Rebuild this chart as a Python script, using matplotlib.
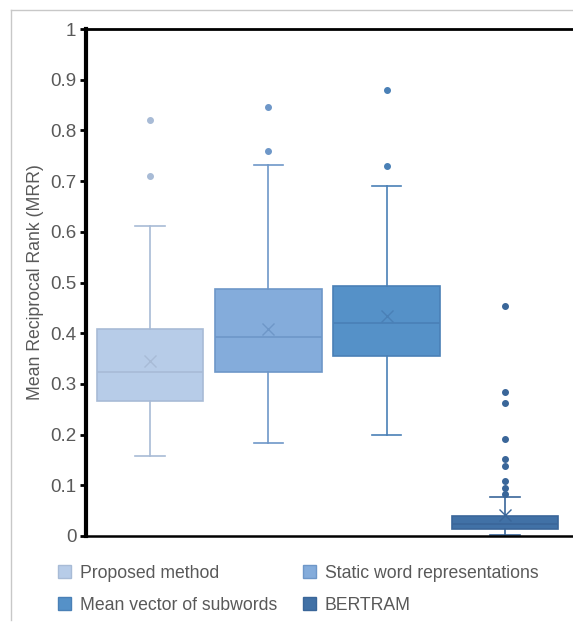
import matplotlib.pyplot as plt
from matplotlib.patches import Patch
from matplotlib.lines import Line2D

plt.rcParams['font.family'] = ['Liberation Sans', 'DejaVu Sans']

methods = ["Proposed method", "Static word representations",
           "Mean vector of subwords", "BERTRAM"]
whislo = [0.157, 0.184, 0.200, 0.002]
q1 = [0.267, 0.324, 0.356, 0.013]
med = [0.323, 0.393, 0.420, 0.023]
q3 = [0.408, 0.488, 0.493, 0.039]
whishi = [0.612, 0.732, 0.691, 0.076]
means = [0.346, 0.408, 0.433, 0.041]
fliers = [
    [0.710, 0.820],
    [0.759, 0.846],
    [0.729, 0.880],
    [0.082, 0.094, 0.108, 0.139, 0.152, 0.192, 0.263, 0.284, 0.453],
]

fills = ["#b7cce8", "#84acdb", "#5591c8", "#4171a6"]
edges = ["#a8bbd6", "#6e97c8", "#4a80b6", "#3a6699"]

fig = plt.figure(figsize=(5.73, 6.23), dpi=100)
# light frame round the chart
fig.add_artist(Line2D([11 / 573, 11 / 573], [1 - 10 / 623, 1 - 620 / 623],
                      color="#c8c8c8", lw=1))
fig.add_artist(Line2D([11 / 573, 1], [1 - 10 / 623, 1 - 10 / 623],
                      color="#c8c8c8", lw=1))

ax = fig.add_axes([86 / 573, 1 - 536 / 623, 1 - 86 / 573, 507 / 623])

stats = []
for i in range(len(methods)):
    stats.append(dict(whislo=whislo[i], q1=q1[i], med=med[i], q3=q3[i],
                      whishi=whishi[i], mean=means[i], fliers=fliers[i]))

pos = [1, 2, 3, 4]
for i in range(4):
    ax.bxp([stats[i]], positions=[pos[i]], widths=0.9, patch_artist=True,
           showmeans=True,
           boxprops=dict(facecolor=fills[i], edgecolor=edges[i], lw=1.2),
           medianprops=dict(color=edges[i], lw=1.2),
           whiskerprops=dict(color=edges[i], lw=1.2),
           capprops=dict(color=edges[i], lw=1.2),
           capwidths=0.25,
           meanprops=dict(marker="x", markersize=9, markeredgecolor=edges[i],
                          markeredgewidth=1),
           flierprops=dict(marker="o", markersize=4, markerfacecolor=edges[i],
                           markeredgecolor=edges[i]))

ax.set_xlim(0.458, 4.576)
ax.set_ylim(0, 1)
ax.set_yticks([0, 0.1, 0.2, 0.3, 0.4, 0.5, 0.6, 0.7, 0.8, 0.9, 1])
ax.set_yticklabels(["0", "0.1", "0.2", "0.3", "0.4", "0.5", "0.6", "0.7",
                    "0.8", "0.9", "1"])
ax.set_xticks([])
ax.tick_params(axis="y", labelsize=13.5, labelcolor="#595959", length=4,
               width=2, color="black", pad=3)
ax.spines["right"].set_visible(False)
ax.spines["left"].set_linewidth(3)
ax.spines["top"].set_linewidth(2)
ax.spines["bottom"].set_linewidth(1.8)
ax.set_ylabel("Mean Reciprocal Rank (MRR)", fontsize=12.7, color="#595959",
              labelpad=4)

# legend fills row by row in the reference
order = [0, 2, 1, 3]
handles = [Patch(facecolor=fills[i], edgecolor=edges[i]) for i in order]
labels = [methods[i] for i in order]
fig.legend(handles, labels, ncol=2, loc="upper left",
           bbox_to_anchor=(42 / 573, 1 - 549 / 623), frameon=False,
           fontsize=12.7, labelcolor="#595959", handlelength=0.75,
           handleheight=0.75, handletextpad=0.5, columnspacing=1.45,
           labelspacing=0.85)

fig.savefig("out.png", dpi=100)
